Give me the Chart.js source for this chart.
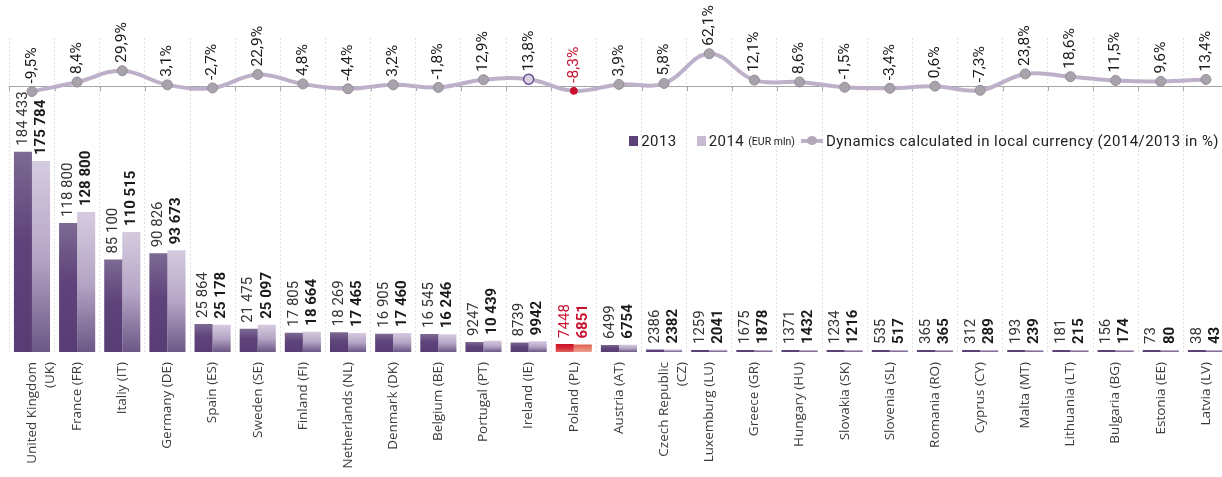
<!DOCTYPE html>
<html><head><meta charset="utf-8">
<script src="https://cdn.jsdelivr.net/npm/chart.js@4.4.1/dist/chart.umd.min.js"></script>
<style>
html,body{margin:0;padding:0;background:#fff;}
#box{position:relative;width:1222px;height:477px;overflow:hidden;}
#c{position:absolute;left:0;top:0;}
#legend{position:absolute;top:132px;right:3px;display:flex;align-items:center;font-family:Roboto,sans-serif;font-size:15px;letter-spacing:0.45px;color:#222;white-space:nowrap;}
#legend .sq{display:inline-block;width:9px;height:10px;margin-right:3px;}
#legend .s{font-size:10.5px;margin-left:4px;letter-spacing:0;}
#legend .ln{position:relative;display:inline-block;width:22px;height:4px;background:#bdb1c9;margin:0 3px 0 6px;}
#legend .ln i{position:absolute;left:6px;top:-3px;width:10px;height:9px;border-radius:50%;background:#b2a8b9;}
</style></head>
<body>
<div id="box">
<canvas id="c" width="1240" height="477"></canvas>
<div id="legend">
<span class="sq" style="background:#5d4179"></span><span>2013</span>
<span class="sq" style="background:#c7bbd4;margin-left:20px"></span><span>2014</span><span class="s">(EUR mln)</span>
<span class="ln"><i></i></span><span>Dynamics calculated in local currency (2014/2013 in %)</span>
</div>
</div>
<script>
const categories = [["United Kingdom","(UK)"],"France (FR)","Italiy (IT)","Germany (DE)","Spain (ES)","Sweden (SE)","Finland (FI)","Netherlands (NL)","Denmark (DK)","Belgium (BE)","Portugal (PT)","Ireland (IE)","Poland (PL)","Austria (AT)",["Czech Republic","(CZ)"],"Luxemburg (LU)","Greece (GR)","Hungary (HU)","Slovakia (SK)","Slovenia (SL)","Romania (RO)","Cyprus (CY)","Malta (MT)","Lithuania (LT)","Bulgaria (BG)","Estonia (EE)","Latvia (LV)"];
const values2013 = [184433,118800,85100,90826,25864,21475,17805,18269,16905,16545,9247,8739,7448,6499,2386,1259,1675,1371,1234,535,365,312,193,181,156,73,38];
const values2014 = [175784,128800,110515,93673,25178,25097,18664,17465,17460,16246,10439,9942,6851,6754,2382,2041,1878,1432,1216,517,365,289,239,215,174,80,43];
const dynamics = [-9.5,8.4,29.9,3.1,-2.7,22.9,4.8,-4.4,3.2,-1.8,12.9,13.8,-8.3,3.9,5.8,62.1,12.1,8.6,-1.5,-3.4,0.6,-7.3,23.8,18.6,11.5,9.6,13.4];
const highlightIndex = 12; // Poland
const markedIndex = 11;    // Ireland

const RED = '#c8102e';
const stops2013 = [[0,'#7d6a93'],[0.45,'#5f437b'],[1,'#583c74']];
const stops2014 = [[0,'#d5cbdf'],[0.5,'#b6a6c6'],[1,'#6c5786']];
const stopsPL13 = [[0,'#cc0f2a'],[0.5,'#d42a36'],[1,'#e0605e']];
const stopsPL14 = [[0,'#e2604f'],[1,'#eda08f']];

function fmtNum(v){ const s=String(v); return v>=10000 ? s.slice(0,s.length-3)+' '+s.slice(-3) : s; }
function fmtPct(v){ return String(v.toFixed(1)).replace('.',',')+'%'; }

function gradFn(stops, plStops){
  return (c)=>{
    const chart=c.chart, area=chart.chartArea;
    const st = (c.dataIndex===highlightIndex) ? plStops : stops;
    if(!area || c.type!=='data' || !chart.scales.y) return st[1][1];
    const y=chart.scales.y;
    const base=y.getPixelForValue(0);
    let top=y.getPixelForValue(c.raw);
    if(base-top<3) top=base-3;
    const g=chart.ctx.createLinearGradient(0,top,0,base);
    st.forEach(s=>g.addColorStop(s[0],s[1]));
    return g;
  };
}

const decor = {
  id:'decor',
  beforeDatasetsDraw(chart){
    const {ctx, chartArea} = chart;
    const x = chart.scales.x, y2 = chart.scales.y2;
    const y0 = y2.getPixelForValue(0);
    const half = (x.getPixelForValue(1)-x.getPixelForValue(0))/2;
    ctx.save();
    ctx.strokeStyle='#a6a6a6'; ctx.lineWidth=1;
    ctx.beginPath();
    ctx.moveTo(chartArea.left, Math.round(y0)+0.5); ctx.lineTo(chartArea.right, Math.round(y0)+0.5);
    for(let i=0;i<=categories.length;i++){
      const px = Math.round(x.getPixelForValue(i)-half)+0.5;
      ctx.moveTo(px, Math.round(y0)); ctx.lineTo(px, Math.round(y0)+5);
    }
    ctx.stroke();
    ctx.restore();
  },
  afterDatasetsDraw(chart){
    const ctx = chart.ctx;
    const m13 = chart.getDatasetMeta(1), m14 = chart.getDatasetMeta(2), mL = chart.getDatasetMeta(0);
    ctx.save();
    ctx.textAlign='left'; ctx.textBaseline='middle';
    const draw=(txt,x,y,font,color)=>{
      ctx.save(); ctx.translate(x,y); ctx.rotate(-Math.PI/2);
      ctx.font=font; ctx.fillStyle=color; ctx.fillText(txt,0,0); ctx.restore();
    };
    categories.forEach((_,i)=>{
      const b13=m13.data[i], b14=m14.data[i], p=mL.data[i];
      draw(fmtNum(values2013[i]), b13.x, b13.y-6, '400 15px Roboto', i===highlightIndex?RED:'#333');
      draw(fmtNum(values2014[i]), b14.x, b14.y-6, '700 15px Roboto', i===highlightIndex?RED:'#1a1a1a');
      draw(fmtPct(dynamics[i]), p.x, p.y-8, '400 15.5px Roboto', i===highlightIndex?RED:'#1a1a1a');
    });
    ctx.restore();
  }
};

new Chart(document.getElementById('c'), {
  data:{
    labels: categories,
    datasets:[
      {type:'line', label:'Dynamics', data:dynamics, yAxisID:'y2', order:0,
       borderColor:'#bdb1c9', borderWidth:4, tension:0.4, fill:false,
       pointRadius: dynamics.map((_,i)=> i===highlightIndex?3.5:5),
       pointBackgroundColor: dynamics.map((_,i)=> i===highlightIndex?RED:(i===markedIndex?'#d9d2e0':'#a8a2ab')),
       pointBorderColor: dynamics.map((_,i)=> i===highlightIndex?RED:(i===markedIndex?'#6b4b91':'#948e98')),
       pointBorderWidth: dynamics.map((_,i)=> i===markedIndex?1.5:1)},
      {type:'bar', label:'2013', data:values2013, yAxisID:'y', order:1,
       backgroundColor: gradFn(stops2013, stopsPL13), categoryPercentage:0.8, barPercentage:1.0, minBarLength:2},
      {type:'bar', label:'2014', data:values2014, yAxisID:'y', order:1,
       backgroundColor: gradFn(stops2014, stopsPL14), categoryPercentage:0.8, barPercentage:1.0, minBarLength:2}
    ]
  },
  options:{
    responsive:false, animation:false, devicePixelRatio:1,
    layout:{padding:{top:38, left:9.4, right:11.5, bottom:0}},
    plugins:{legend:{display:false}, tooltip:{enabled:false}},
    scales:{
      x:{
        grid:{display:true, offset:true, color:'#e2e2e2', lineWidth:1, drawTicks:false},
        border:{display:false, dash:[2,2]},
        ticks:{autoSkip:false, maxRotation:90, minRotation:90, padding:10, color:'#3c3c3c',
               font:{family:'Open Sans', size:13.5, lineHeight:1.35}},
        afterFit(scale){ scale.height = 125; }
      },
      y:{display:false, min:0, max:289100},
      y2:{display:false, min:-503.8, max:92}
    }
  },
  plugins:[decor]
});
</script>
</body></html>
